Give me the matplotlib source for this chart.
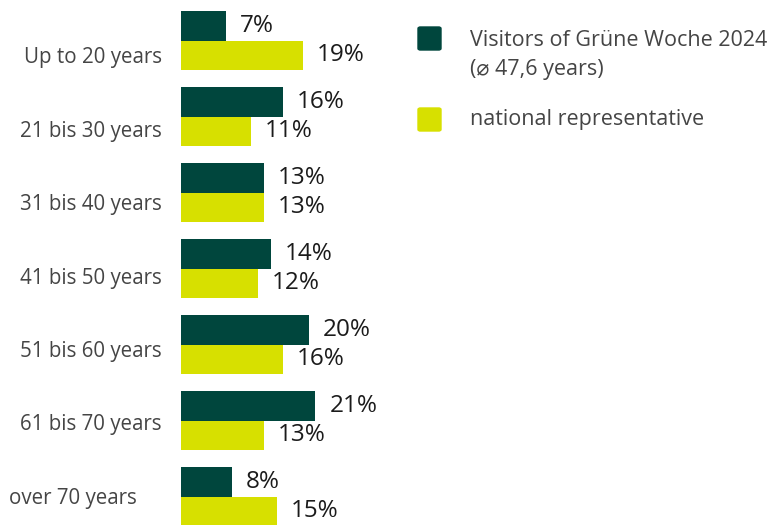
import numpy as np
import matplotlib.pyplot as plt
from matplotlib.patches import FancyBboxPatch

plt.rcParams['font.family'] = ['Open Sans', 'DejaVu Sans']

categories = ['Up to 20 years', '21 bis 30 years', '31 bis 40 years', '41 bis 50 years',
              '51 bis 60 years', '61 bis 70 years', 'over 70 years']
visitors = [7, 16, 13, 14, 20, 21, 8]
national = [19, 11, 13, 12, 16, 13, 15]
legend_labels = ['Visitors of Grüne Woche 2024', '(⌀ 47,6 years)', 'national representative']

dark = '#00463d'
yellow = '#d7e000'
text_grey = '#454545'
value_col = '#1b1b1b'

fig = plt.figure(figsize=(7.75, 5.25), dpi=100)
ax = fig.add_axes([181 / 775, 0, 594 / 775, 1])
ax.set_xlim(0, 594 / 6.4)
ax.set_ylim(6.375, -0.533)
ax.axis('off')

pos = np.arange(len(categories))
h = 0.39
ax.barh(pos - h / 2, visitors, height=h, color=dark)
ax.barh(pos + h / 2, national, height=h, color=yellow)

for i in range(len(categories)):
    ax.annotate(f'{visitors[i]}%', (visitors[i], pos[i] - h / 2), xytext=(10, 0),
                textcoords='offset points', va='center', ha='left',
                fontsize=17.5, color=value_col)
    ax.annotate(f'{national[i]}%', (national[i], pos[i] + h / 2), xytext=(10, 0),
                textcoords='offset points', va='center', ha='left',
                fontsize=17.5, color=value_col)
    # category labels drift slightly downward towards the top
    shift = 0.02 + 0.21 * (len(categories) - 1 - i) / (len(categories) - 1)
    dx = -18 if i == len(categories) - 1 else 0
    ax.annotate(categories[i], (0, pos[i] + shift), xytext=(-14 + dx, 0),
                textcoords='offset points', va='center', ha='right',
                fontsize=14.8, color=text_grey)

# legend
fig.patches.append(FancyBboxPatch((418 / 775, 1 - 50 / 525), 23 / 775, 23 / 525,
                                  boxstyle='round,pad=0,rounding_size=0.003',
                                  transform=fig.transFigure, color=dark))
fig.patches.append(FancyBboxPatch((418 / 775, 1 - 131 / 525), 23 / 775, 23 / 525,
                                  boxstyle='round,pad=0,rounding_size=0.003',
                                  transform=fig.transFigure, color=yellow))
for (y, lab) in [(40, legend_labels[0]), (70, legend_labels[1]), (120, legend_labels[2])]:
    fig.text(470 / 775, 1 - y / 525, lab, va='center', ha='left',
             fontsize=15.5, color=text_grey)

fig.savefig('out.png', dpi=100)
